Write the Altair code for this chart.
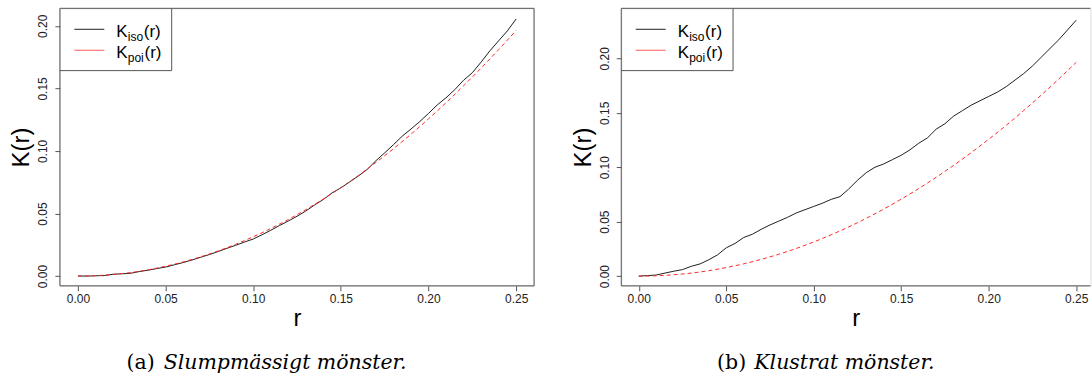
import altair as alt
import pandas as pd

# ---- data ----
r_fine = [0.000, 0.005, 0.010, 0.015, 0.020, 0.025, 0.030, 0.035, 0.040, 0.045,
          0.050, 0.055, 0.060, 0.065, 0.070, 0.075, 0.080, 0.085, 0.090, 0.095,
          0.100, 0.105, 0.110, 0.115, 0.120, 0.125, 0.130, 0.135, 0.140, 0.145,
          0.150, 0.155, 0.160, 0.165, 0.170, 0.175, 0.180, 0.185, 0.190, 0.195,
          0.200, 0.205, 0.210, 0.215, 0.220, 0.225, 0.230, 0.235, 0.240, 0.245,
          0.250]

iso_random = [0.0000, 0.0000, 0.0002, 0.0004, 0.0014, 0.0018, 0.0022, 0.0036, 0.0047, 0.0060,
              0.0072, 0.0090, 0.0108, 0.0128, 0.0150, 0.0172, 0.0196, 0.0222, 0.0246, 0.0272,
              0.0296, 0.0330, 0.0366, 0.0404, 0.0440, 0.0478, 0.0520, 0.0568, 0.0612, 0.0665,
              0.0705, 0.0752, 0.0800, 0.0852, 0.0922, 0.0985, 0.1050, 0.1118, 0.1175, 0.1235,
              0.1300, 0.1368, 0.1425, 0.1490, 0.1565, 0.1625, 0.1710, 0.1800, 0.1880, 0.1960,
              0.2055]

iso_cluster = [0.0000, 0.0005, 0.0010, 0.0028, 0.0045, 0.0060, 0.0090, 0.0112, 0.0150, 0.0195,
               0.0260, 0.0300, 0.0355, 0.0385, 0.0430, 0.0470, 0.0505, 0.0540, 0.0580, 0.0610,
               0.0640, 0.0670, 0.0705, 0.0730, 0.0800, 0.0880, 0.0950, 0.1000, 0.1030, 0.1070,
               0.1110, 0.1160, 0.1220, 0.1270, 0.1350, 0.1400, 0.1470, 0.1520, 0.1570, 0.1610,
               0.1650, 0.1690, 0.1740, 0.1800, 0.1860, 0.1930, 0.2010, 0.2090, 0.2170, 0.2260,
               0.2350]

r_coarse = [0.00, 0.01, 0.02, 0.03, 0.04, 0.05, 0.06, 0.07, 0.08, 0.09,
            0.10, 0.11, 0.12, 0.13, 0.14, 0.15, 0.16, 0.17, 0.18, 0.19,
            0.20, 0.21, 0.22, 0.23, 0.24, 0.25]
poi_values = [0.0000, 0.0003, 0.0013, 0.0028, 0.0050, 0.0079, 0.0113, 0.0154, 0.0201, 0.0254,
              0.0314, 0.0380, 0.0452, 0.0531, 0.0616, 0.0707, 0.0804, 0.0908, 0.1018, 0.1134,
              0.1257, 0.1385, 0.1521, 0.1662, 0.1810, 0.1963]

tick_values = [0.00, 0.05, 0.10, 0.15, 0.20, 0.25]
y_tick_values = [0.00, 0.05, 0.10, 0.15, 0.20]

captions = [("(a)", "Slumpmässigt mönster."), ("(b)", "Klustrat mönster.")]

# ---- styling ----
H = 278
BOX = "#555555"
TXT = "#222222"
SANS = "Liberation Sans"
SERIF = "DejaVu Serif"
one = pd.DataFrame({"a": [0]})


def panel(iso, W, xdom, ydom, tag, text, cap_x, right_edge):
    df_iso = pd.DataFrame({"r": r_fine, "k": iso})
    df_poi = pd.DataFrame({"r": r_coarse, "k": poi_values})

    xaxis = alt.Axis(values=tick_values, format=".2f", title="r", grid=False,
                     domain=False, tickSize=5, tickColor=BOX, labelFont=SANS,
                     labelFontSize=12, labelColor=TXT, labelPadding=3,
                     titleFont=SANS, titleFontSize=24, titleFontWeight="normal",
                     titleColor="#000000", titleX=W / 2, titleY=40,
                     titleBaseline="alphabetic", titleAlign="center")
    yaxis = alt.Axis(values=y_tick_values, format=".2f", title="K(r)", grid=False,
                     domain=False, tickSize=5, tickColor=BOX, labelFont=SANS,
                     labelFontSize=12, labelColor=TXT, labelAngle=270,
                     labelAlign="center", labelBaseline="bottom", labelPadding=5,
                     titleFont=SANS, titleFontSize=24, titleFontWeight="normal",
                     titleColor="#000000", titleAngle=270, titleX=-31, titleY=H / 2,
                     titleBaseline="alphabetic", titleAlign="center")
    xs = alt.Scale(domain=xdom, nice=False, zero=False)
    ys = alt.Scale(domain=ydom, nice=False, zero=False)

    iso_line = alt.Chart(df_iso).mark_line(color="#1f1f1f", strokeWidth=1, clip=True).encode(
        x=alt.X("r:Q", scale=xs, axis=xaxis),
        y=alt.Y("k:Q", scale=ys, axis=yaxis),
    )
    poi_line = alt.Chart(df_poi).mark_line(color="#ff2a2a", strokeWidth=1,
                                           strokeDash=[4, 3], clip=True,
                                           interpolate="monotone").encode(
        x=alt.X("r:Q", scale=xs), y=alt.Y("k:Q", scale=ys))

    def rule(x1, x2, y1, y2, color=BOX, dash=None):
        kw = dict(color=color, strokeWidth=1)
        if dash:
            kw["strokeDash"] = dash
        return alt.Chart(one).mark_rule(**kw).encode(
            x=alt.value(x1), x2=alt.value(x2), y=alt.value(y1), y2=alt.value(y2))

    layers = [iso_line, poi_line]
    # plot box
    layers += [rule(0, W, 0, 0), rule(0, W, H, H), rule(0, 0, 0, H)]
    if right_edge:
        layers.append(rule(W, W, 0, H))
    # legend box
    LW, LH = 112, 62.4
    layers += [rule(LW, LW, 0, LH), rule(0, LW, LH, LH)]
    # legend samples
    layers += [rule(14.5, 44.5, 21, 21, "#1f1f1f"), rule(14.5, 44.5, 42, 42, "#ff5a5a")]

    def txt(s, x, y, size, font=SANS, style="normal", color="#000000"):
        return alt.Chart(one).mark_text(text=s, font=font, fontSize=size, fontStyle=style,
                                        align="left", baseline="alphabetic",
                                        color=color).encode(x=alt.value(x), y=alt.value(y))

    for yb, sub, rx in [(28.5, "iso", 84.0), (49.5, "poi", 84.8)]:
        layers += [txt("K", 56.5, yb, 17), txt(sub, 68.0, yb + 4, 12), txt("(r)", rx, yb, 17)]

    # caption
    layers += [txt(tag, cap_x, 361, 20.5, SERIF),
               txt(text, cap_x + 37.3, 361, 20.5, SERIF, "italic")]

    return alt.layer(*layers).properties(width=W, height=H)


left = panel(iso_random, 475, [-0.0103, 0.2602], [-0.0078, 0.2140],
             captions[0][0], captions[0][1], 66.7, True)
right = panel(iso_cluster, 470, [-0.0100, 0.2581], [-0.0089, 0.2459],
              captions[1][0], captions[1][1], 96.0, False)

chart = alt.hconcat(left, right, spacing=87.4, bounds="flush").properties(
    padding={"left": 9, "top": 7, "right": 0, "bottom": 0}
).configure_view(stroke=None).configure(background="white")

chart.save("out.html", embed_options={"renderer": "svg", "actions": False})
